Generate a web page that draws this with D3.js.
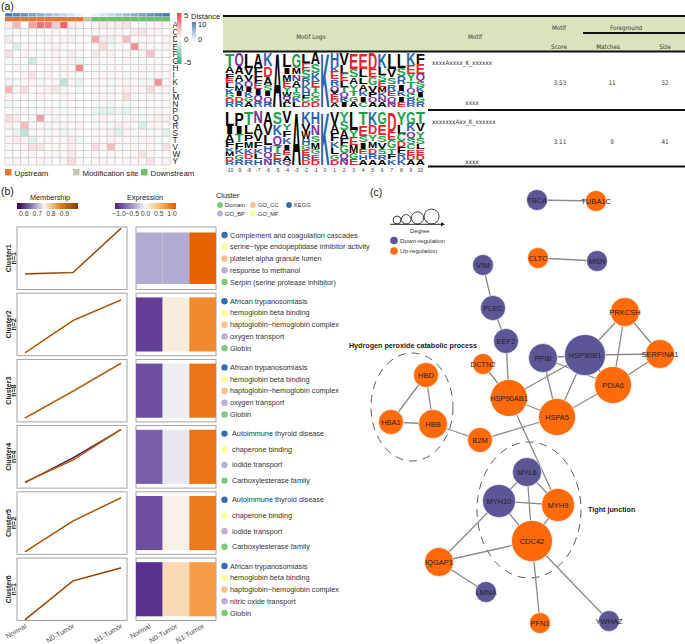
<!DOCTYPE html>
<html><head><meta charset="utf-8">
<script src="https://cdn.jsdelivr.net/npm/d3@7"></script>
<style>
body{margin:0;background:#fff}
svg{display:block}
text{font-family:"Liberation Sans",Arial,Helvetica,sans-serif}
.nar{font-family:"Liberation Sans Narrow","DejaVu Sans Condensed","Liberation Sans",sans-serif}
</style></head><body>
<script>
// ---------------- DATA ----------------
const positions = [-10,-9,-8,-7,-6,-5,-4,-3,-2,-1,0,1,2,3,4,5,6,7,8,9,10];
const aaLetters = ["A","C","D","E","F","G","H","I","K","L","M","N","P","Q","R","S","T","V","W","Y"];
const heatValues = [
 [0.5,2,0,2.5,3.8,3.5,1.5,4.2,0.6,0.4,0,0.3,0.6,0.4,0.6,0.8,0,-0.4,0.3,0.3,0.2],
 [-0.3,0.2,-0.2,0,-0.2,0,0.3,0,0.2,-0.3,0,0.3,0.2,0.3,0.3,-0.2,0.6,0.8,0.2,0.3,0],
 [0.6,0,0,-0.2,0.2,0.3,0,0.3,0.4,-0.2,0,2.4,0.6,-0.6,0.3,1.8,0.2,0.2,0.3,0,0.3],
 [0,-0.9,0.2,0.3,-0.2,0.2,0.4,0.2,0,0.2,0,0.2,1.0,-0.3,0.2,0,3.0,0.4,-0.2,0.2,0.3],
 [0.8,0,0.3,0.2,-0.3,0.2,0.3,-0.2,0.5,-0.3,0,0.7,0.3,0.4,0.2,0.3,0,0.3,1.6,0.2,-0.2],
 [-0.3,0.2,0,-1.3,0.2,-0.2,0.3,0.2,0.3,-0.5,0,0.3,0.2,0.2,-0.2,0.3,-0.2,-0.3,0,0.2,0],
 [0,0.3,-0.2,0.2,0,0.3,0.2,0.4,0.3,3.2,0,0.3,-0.2,0.2,0.3,0,0.2,0.3,0.2,0.3,0.2],
 [-0.2,0,0.3,0.8,-0.2,0.3,0,0.3,0.2,-0.3,0,-0.2,0.3,0.3,0.2,-0.3,0.2,0.3,-0.2,0.3,0.2],
 [-0.5,-0.3,0.2,0.3,-0.3,0.2,-0.3,-1.6,0.3,-0.6,0,0.3,0.2,-0.3,0.2,0.3,0.2,-0.4,0.3,3.0,0.2],
 [2.0,0.3,1.0,0.2,0.3,0.4,0.6,0.3,0.2,-0.4,0,0.3,0.2,0.3,0.2,0.5,0.2,0.3,1.0,-0.3,0.3],
 [0.3,0,0.2,-0.2,0.3,0.2,0,0.3,0.2,0,0,0.2,0.3,0.3,0.2,1.0,0.2,-0.2,0.3,0.2,0.2],
 [-0.4,-0.3,0.2,-0.3,-0.2,0.2,-0.2,-0.3,0.2,-0.2,0,-0.3,0.2,-0.4,0.2,-0.3,0.2,0.3,-0.2,0.2,0.2],
 [0,-0.3,0.3,0.2,-0.2,0.3,0.2,-0.3,0.2,0,0,-0.6,-0.8,-0.8,-0.5,-0.7,0.2,-0.3,0.2,0.3,0.2],
 [1.0,0.5,0,0.3,2.6,0,0.3,0.2,0.3,0.2,0,0.2,0.3,0.2,0,0.2,0.3,-0.5,0.3,0.5,0.4],
 [0.4,0.2,1.8,0.3,0.2,0.3,0.2,0.3,0.2,0.3,0,-0.3,0.2,-0.3,0.5,0.3,0.2,-1.0,0.2,0.3,0.2],
 [0.2,-0.6,-1.6,0.3,0.2,-0.3,0.2,-0.4,0.3,0.2,0,0.3,0.2,0.4,-0.8,0.3,0.2,0.3,-0.3,0.2,-0.8],
 [0.3,0.6,0.3,-0.8,0.2,0.3,0.2,0.3,0.6,-0.4,0,0.3,0.2,0.4,0.3,0.2,-0.3,0.4,0.3,-0.3,0.2],
 [-0.3,0.2,0.3,0.8,0.8,0.2,0.3,0.2,0.5,-0.2,0,1.0,0.3,1.8,0.3,0.2,0.3,0.2,0.3,-0.3,0.9],
 [0.2,0,0.2,0.3,0,0.2,0.3,0.2,0.6,0.2,0,0.2,0,0.3,0.2,0,0.2,0.8,0.2,0,0.2],
 [0.2,0.3,0.2,0,0.3,0.2,0,0.3,1.0,0.2,0,0.2,0.3,0.2,0,0.3,0.2,0.3,0.8,0,0.3]
];
const groupNames = ["Upstream","Modification site","Downstream"];

const logo1 = [
 "T12 A6 F5 E4 L4 K5 G4 D4 R4","Q10 A6 A5 K4 M4 I4 D4 R4","L12 V6 V5 Q5 I4 K4 G4 A4","A10 F6 F5 E4 I4 Q4 R4","K10 D8 A6 S5 I4 O4 R4",
 "A60","L12 I6 M6 E6 Y4 W4 Q3 A3 L3","G12 M5 N5 A5 T4 S4 K4 L4","L8 E7 S6 R5 K5 H4 F3 G3 D4","A9 S7 K6 E5 T4 C4 G4 D4",
 "K60","H10 K5 E6 R5 Q4 V3 E4 D3 A3","V10 L7 E6 L5 T4 Q4 K4 I4","E12 S6 A5 Y5 T4 G4 A4","E12 L6 L5 A5 K4 I4 C4","D13 E6 G6 V5 P4 Q4 A4",
 "K12 L6 S5 E5 M4 K4 N4 A4","L12 V6 S5 R5 E4 Q4 N4","L11 S6 R6 I5 K4 I4 E4","K9 E7 Y6 T5 Q4 C4 R4 R3","F9 E8 Q6 S5 K4 I4 G4 R4"
];
const logo2 = [
 "L13 I7 A7 F5 K4 M4 D4 R4","P10 I6 T6 F5 K4 G4 R4","T9 L7 P5 M5 K4 D4 R4","N8 A7 V6 F5 K4 L4 H4","A8 V6 L6 H4 Q4 N4",
 "S8 K7 Q6 T5 E4 R4","V8 Y5 F5 K5 I4 E4 A4 Q3","A60","K10 V6 W6 H5 G4 E4 R4 D4","H9 N8 S5 M5 G4 E4 D4",
 "K60","V9 A7 F6 K5 L5 G4 D4","Y6 S6 A6 F5 G5 Q4 N4","L12 Y5 E5 M5 G4 E4","T10 E8 S5 I5 E4 H4 A4","K9 D7 Y5 M5 D4 R4 A4",
 "G9 E8 S5 V5 S4 R4 A4","D14 E6 G6 T4 F4 K4","Y9 L6 C5 D4 F4 R4 K4","G9 K6 Q5 S5 C4 E4 D4 A4","T9 V6 Y5 S5 L4 E4 D4 A4"
];
const motifStrings = ["xxxxAxxxx_K_xxxxxx","xxxxxxxAxx_K_xxxxxx"];
const motifScores = ["3.53","3.11"];
const motifMatches = ["11","9"];
const motifSizes = ["52","41"];

const conditions = ["Normal","N0-Tumor","N1-Tumor"];
const clusterNames = ["Cluster1","Cluster2","Cluster3","Cluster4","Cluster5","Cluster6"];
const clusterSizes = [1,2,8,4,2,1];
const clusterProfiles = [[-0.6,-0.55,1.15],[-1.09,0.15,0.94],[-1.05,-0.02,1.05],[-0.97,-0.12,1.05],[-1.1,0.08,0.97],[-1.17,0.32,0.82]];
const clusterMembership = [1.0,0.97,0.96,0.95,0.97,1.0];
const extraProfiles = [{cluster:3, values:[-0.99,-0.04,1.05], membership:0.56}];
const clusterExpression = [[-0.4,-0.4,1.1],[-0.97,0.1,0.84],[-0.89,-0.05,0.98],[-0.8,-0.09,0.98],[-0.89,0.05,0.95],[-1.05,0.25,0.72]];
const clusterTerms = [
 ["Complement and coagulation cascades","serine\u2212type endopeptidase inhibitor activity","platelet alpha granule lumen","response to methanol","Serpin (serine protease inhibitor)"],
 ["African trypanosomiasis","hemoglobin beta binding","haptoglobin\u2212hemoglobin complex","oxygen transport","Globin"],
 ["African trypanosomiasis","hemoglobin beta binding","haptoglobin\u2212hemoglobin complex","oxygen transport","Globin"],
 ["Autoimmune thyroid disease","chaperone binding","iodide transport","Carboxylesterase family"],
 ["Autoimmune thyroid disease","chaperone binding","iodide transport","Carboxylesterase family"],
 ["African trypanosomiasis","hemoglobin beta binding","haptoglobin\u2212hemoglobin complex","nitric oxide transport","Globin"]
];
const clusterTermTypes = [
 ["KEGG","GO_MF","GO_CC","GO_BP","Domain"],["KEGG","GO_MF","GO_CC","GO_BP","Domain"],["KEGG","GO_MF","GO_CC","GO_BP","Domain"],
 ["KEGG","GO_MF","GO_BP","Domain"],["KEGG","GO_MF","GO_BP","Domain"],["KEGG","GO_MF","GO_CC","GO_BP","Domain"]
];
const termTypeOrder = ["Domain","GO_CC","KEGG","GO_BP","GO_MF"];
const membershipTicks = [0.6,0.7,0.8,0.9];
const expressionTicks = [-1.0,-0.5,0.0,0.5,1.0];

const netNodes = [
 ["TBCA","down",197,35],["TUBA1C","up",256,36],["CLTC","up",198,93],["MSN","down",257,96],
 ["VIM","down",143,100],["PLEC","down",153,143],["EEF2","down",166,176],["PRKCSH","up",285,147],
 ["SERPINA1","up",320,189],["HSP90B1","down",245,190],["PPIB","down",203,193],["DCTN2","up",143,199],
 ["PDIA6","up",273,220],["HSP90AB1","up",169,233],["HSPA5","up",217,252],["HBD","up",86,210],
 ["HBA1","up",51,257],["HBB","up",93,259],["B2M","up",140,275],["MYL6","down",187,307],
 ["MYH10","down",159,336],["MYH9","up",218,340],["CDC42","up",192,376],["IQGAP1","up",99,397],
 ["LMNA","down",146,427],["PFN1","up",200,458],["YWHAZ","down",269,456]
];
const netEdges = [
 ["TBCA","TUBA1C"],["CLTC","MSN"],["VIM","PLEC"],["PLEC","EEF2"],["EEF2","HSP90AB1"],["DCTN2","HSP90AB1"],
 ["PRKCSH","HSP90B1"],["PRKCSH","SERPINA1"],["PRKCSH","PDIA6"],["HSP90B1","SERPINA1"],["SERPINA1","PDIA6"],
 ["HSP90B1","PDIA6"],["HSP90B1","HSP90AB1"],["HSP90B1","HSPA5"],["PPIB","HSP90B1"],["PPIB","PDIA6"],["PPIB","HSPA5"],
 ["HSP90AB1","HSPA5"],["PDIA6","HSPA5"],["HSPA5","B2M"],["HBB","B2M"],["HBD","HBB"],["HBD","HBA1"],["HBA1","HBB"],
 ["HSP90AB1","MYH9"],["MYL6","MYH10"],["MYL6","MYH9"],["MYL6","CDC42"],["MYH10","MYH9"],["MYH10","CDC42"],
 ["MYH9","CDC42"],["MYH10","IQGAP1"],["IQGAP1","CDC42"],["IQGAP1","LMNA"],["CDC42","PFN1"],["CDC42","YWHAZ"]
];
const netModules = [
 {label:"Hydrogen peroxide catabolic process", cx:72, cy:242, rx:41, ry:54},
 {label:"Tight junction", cx:189, cy:345, rx:52, ry:68}
];

// ---------------- DRAW ----------------
const svg = d3.select("body").append("svg").attr("width",685).attr("height",644);
const txt = (x,y,s,o={})=>{const t=svg.append("text").attr("x",x).attr("y",y).text(s);
  for(const k in o) t.attr(k,o[k]); return t;};

// ===== (a) heatmap =====
txt(1,10,"(a)",{"font-size":10.5,fill:"#222"});
const hx = d3.scaleBand().domain(positions).range([5,170]);
const hy = d3.scaleBand().domain(aaLetters).range([21.5,165]);
const heatColor = d3.scaleLinear().domain([-5,0,5]).range(["#2FAF86","#ffffff","#E8454D"]);
const distColor = d3.scaleLinear().domain([0,10]).range(["#ffffff","#4479B3"]);
const groupColor = d3.scaleOrdinal().domain(groupNames).range(["#E3772A","#C6C8AF","#6FBF6C"]);
const groupOf = p => p<0?groupNames[0]:(p===0?groupNames[1]:groupNames[2]);

svg.append("g").selectAll("rect").data(positions).join("rect")
 .attr("x",d=>hx(d)).attr("y",13).attr("width",hx.bandwidth()).attr("height",3.8)
 .attr("fill",d=>distColor(Math.abs(d))).attr("stroke","#fff").attr("stroke-width",0.3);
svg.append("g").selectAll("rect").data(positions).join("rect")
 .attr("x",d=>hx(d)).attr("y",17).attr("width",hx.bandwidth()).attr("height",4.2)
 .attr("fill",d=>groupColor(groupOf(d)));
const cells=[];
aaLetters.forEach((a,i)=>positions.forEach((p,j)=>cells.push({a,p,v:heatValues[i][j]})));
svg.append("g").selectAll("rect").data(cells).join("rect")
 .attr("x",d=>hx(d.p)).attr("y",d=>hy(d.a)).attr("width",hx.bandwidth()).attr("height",hy.bandwidth())
 .attr("fill",d=>heatColor(d.v)).attr("stroke","#cfcfcf").attr("stroke-width",0.8);
svg.append("g").selectAll("text").data(aaLetters).join("text")
 .attr("x",172.5).attr("y",d=>hy(d)+hy.bandwidth()/2+3).attr("font-size",8.2).attr("fill","#222").text(d=>d);

// heat legend
const defs = svg.append("defs");
const g1 = defs.append("linearGradient").attr("id","hg").attr("x1",0).attr("x2",0).attr("y1",0).attr("y2",1);
[5,2.5,0,-2.5,-5].forEach((v,i)=>g1.append("stop").attr("offset",i/4).attr("stop-color",heatColor(v)));
const hl = d3.scaleLinear().domain([5,-5]).range([15,62]);
svg.append("rect").attr("x",177).attr("y",13).attr("width",4.5).attr("height",51).attr("fill","url(#hg)");
[5,0,-5].forEach(v=>{
  svg.append("line").attr("x1",181.5).attr("x2",183).attr("y1",hl(v)).attr("y2",hl(v)).attr("stroke","#fff").attr("stroke-width",0.6);
  txt(184,hl(v)+3,v===-5?"-5":String(v),{"font-size":8,fill:"#222"});
});
txt(191,19,"Distance",{"font-size":7.5,fill:"#222"});
const g2 = defs.append("linearGradient").attr("id","dg").attr("x1",0).attr("x2",0).attr("y1",0).attr("y2",1);
[10,5,0].forEach((v,i)=>g2.append("stop").attr("offset",i/2).attr("stop-color",distColor(v)));
svg.append("rect").attr("x",192).attr("y",22).attr("width",4).attr("height",18.5).attr("fill","url(#dg)").attr("stroke","#ccc").attr("stroke-width",0.3);
txt(198,27,"10",{"font-size":7.5,fill:"#222"});
txt(198,41.5,"0",{"font-size":7.5,fill:"#222"});

// group legend
const gLegX=[5,73,141];
groupNames.forEach((g,i)=>{
  svg.append("rect").attr("x",gLegX[i]).attr("y",169).attr("width",6.5).attr("height",6.5).attr("fill",groupColor(g));
  txt(gLegX[i]+9.5,175.5,g,{"font-size":7.8,fill:"#222"});
});

// ===== (a) table =====
svg.append("rect").attr("x",223).attr("y",17).attr("width",462).attr("height",34).attr("fill","#D9E4BE");
const hline=(x1,x2,y,w)=>svg.append("line").attr("x1",x1).attr("x2",x2).attr("y1",y).attr("y2",y).attr("stroke","#111").attr("stroke-width",w);
hline(223,685,16,2); hline(223,685,51.5,1.8); hline(583,685,33,1.8);
hline(428,685,110,2); hline(428,685,166.5,2);
const tf = {"font-size":6.3,fill:"#333","text-anchor":"middle",class:"nar"};
txt(311,39,"Motif Logo",tf); txt(475,39,"Motif",tf); txt(559,30,"Motif",tf); txt(559,49,"Score",tf);
txt(626,29.5,"Foreground",tf); txt(608,49,"Matches",tf); txt(665,49,"Size",tf);
const rowTops=[53,112];
motifStrings.forEach((m,i)=>{
  const t0=rowTops[i];
  txt(432,t0+11.5,m,{"font-size":6.3,fill:"#333",class:"nar"});
  txt(560,t0+31.5,motifScores[i],tf); txt(612,t0+31.5,motifMatches[i],tf); txt(665,t0+31.5,motifSizes[i],tf);
  txt(472,t0+51.5,"xxxx",tf);
});

const aaColor = a => "GSTYC".includes(a)?"#1EA04A":("NQ".includes(a)?"#7C2E9E":("KRH".includes(a)?"#2C61AD":("DE".includes(a)?"#E3262D":"#000")));
const lx = d3.scaleBand().domain(positions).range([225,425]).paddingInner(0.03);
function drawLogo(cols, top, bottom){
  const ly = d3.scaleLinear().domain([0,1]).range([top,bottom]);
  cols.forEach((s,i)=>{
    const items = s.split(" ").map(t=>({aa:t[0]==="O"?"Q":t[0],w:+t.slice(1)}));
    const tot = d3.sum(items,d=>d.w);
    let c=0;
    items.forEach(d=>{
      const y0=ly(c/tot); c+=d.w; const y1=ly(c/tot); const h=y1-y0;
      svg.append("text").attr("x",lx(positions[i])).attr("y",y1)
        .attr("font-size",h/0.716).attr("font-weight","bold")
        .attr("textLength",lx.bandwidth()).attr("lengthAdjust","spacingAndGlyphs")
        .attr("fill",aaColor(d.aa)).text(d.aa);
    });
  });
}
drawLogo(logo1,53,107);
drawLogo(logo2,112,165);
svg.append("g").selectAll("text").data(positions).join("text")
 .attr("x",d=>lx(d)+lx.bandwidth()/2).attr("y",172).attr("text-anchor","middle")
 .attr("font-size",5).attr("fill","#333").text(d=>d);

// ===== (b) =====
txt(1,195,"(b)",{"font-size":10.5,fill:"#222"});
const memStops=[0.55,0.65,0.75,0.87,1.0];
const memColor = d3.scaleLinear().domain(memStops).range(["#2D004B","#8073AC","#F7F7F7","#E08214","#7F3B08"]);
const expColor = d3.scaleLinear().domain([-1.1,-0.55,0,0.55,1.1]).range(["#542788","#998EC3","#F7F7F7","#FDB863","#E66101"]);
// membership legend
const mlx = d3.scaleLinear().domain([0.55,1.0]).range([17,78]);
const gm = defs.append("linearGradient").attr("id","mg");
memStops.forEach(v=>gm.append("stop").attr("offset",(v-0.55)/0.45).attr("stop-color",memColor(v)));
svg.append("rect").attr("x",17).attr("y",203).attr("width",61).attr("height",6).attr("fill","url(#mg)");
txt(50,200,"Membership",{"font-size":7.3,fill:"#222","text-anchor":"middle"});
membershipTicks.forEach(v=>txt(mlx(v),216,v.toFixed(1),{"font-size":6.8,fill:"#444","text-anchor":"middle"}));
// expression legend
const elx = d3.scaleLinear().domain([-1.15,1.15]).range([115,176]);
const ge = defs.append("linearGradient").attr("id","eg");
[-1.1,-0.55,0,0.55,1.1].forEach(v=>ge.append("stop").attr("offset",(v+1.15)/2.3).attr("stop-color",expColor(v)));
svg.append("rect").attr("x",115).attr("y",203).attr("width",61).attr("height",6).attr("fill","url(#eg)");
txt(145,200,"Expression",{"font-size":7.3,fill:"#222","text-anchor":"middle"});
expressionTicks.forEach(v=>txt(elx(v),216,(v<0?"\u2212":"")+Math.abs(v).toFixed(1),{"font-size":6.8,fill:"#444","text-anchor":"middle"}));
// cluster legend
const termColor = d3.scaleOrdinal().domain(["Domain","GO_BP","GO_CC","GO_MF","KEGG"]).range(["#7FC97F","#BEAED4","#FDC086","#FFFF99","#386CB0"]);
txt(216,198,"Cluster",{"font-size":7.3,fill:"#222"});
const legPos={Domain:[220,205],GO_CC:[253,205],KEGG:[289,205],GO_BP:[220,213.5],GO_MF:[253,213.5]};
termTypeOrder.forEach(t=>{
  const [x,y]=legPos[t];
  svg.append("circle").attr("cx",x).attr("cy",y).attr("r",2.9).attr("fill",termColor(t));
  txt(x+5,y+2.2,t,{"font-size":5.8,fill:"#333"});
});

const rowH=62.5, rowStep=66.2, rowTop0=227;
const lineX = d3.scalePoint().domain(conditions).range([25,121]);
const heatX = d3.scaleBand().domain(conditions).range([136,216]);
clusterNames.forEach((cn,i)=>{
  const top=rowTop0+i*rowStep, bot=top+rowH;
  const ly = d3.scaleLinear().domain([-1.2,1.2]).range([bot,top]);
  svg.append("rect").attr("x",17).attr("y",top).attr("width",110).attr("height",rowH).attr("fill","#fff").attr("stroke","#9a9a9a").attr("stroke-width",0.9);
  const line = d3.line().x((d,k)=>lineX(conditions[k])).y(d=>ly(d));
  extraProfiles.filter(e=>e.cluster===i).forEach(e=>{
    svg.append("path").attr("d",line(e.values)).attr("fill","none").attr("stroke",memColor(e.membership)).attr("stroke-width",1.3);
  });
  svg.append("path").attr("d",line(clusterProfiles[i])).attr("fill","none").attr("stroke","#E08A3A").attr("stroke-width",1.9).attr("opacity",0.6);
  svg.append("path").attr("d",line(clusterProfiles[i])).attr("fill","none").attr("stroke",memColor(clusterMembership[i])).attr("stroke-width",1.1);
  // heat
  svg.append("rect").attr("x",136).attr("y",top).attr("width",80).attr("height",rowH).attr("fill","#fff").attr("stroke","#9a9a9a").attr("stroke-width",0.9);
  const m = i===0?5.5:4.2;
  svg.append("g").selectAll("rect").data(clusterExpression[i]).join("rect")
    .attr("x",(d,k)=>heatX(conditions[k])).attr("y",top+m).attr("width",heatX.bandwidth()).attr("height",rowH-2*m)
    .attr("fill",d=>expColor(d));
  // labels
  const cy=top+rowH/2;
  txt(0,0,cn,{"font-size":7,"font-weight":"bold",fill:"#222","text-anchor":"middle",transform:`translate(10.5,${cy}) rotate(-90)`});
  txt(0,0,"n="+clusterSizes[i],{"font-size":7,"font-weight":"bold",fill:"#222","text-anchor":"middle",transform:`translate(16.2,${cy}) rotate(-90)`});
  // terms
  const terms=clusterTerms[i], n=terms.length;
  const ty = d3.scalePoint().domain(d3.range(n)).range([top+8,top+55]);
  terms.forEach((t,k)=>{
    svg.append("circle").attr("cx",224.5).attr("cy",ty(k)).attr("r",3.2).attr("fill",termColor(clusterTermTypes[i][k]));
    txt(n===4?232:230,ty(k)+2.5,t,{"font-size":7.3,fill:"#333"});
  });
});
const axY = rowTop0+5*rowStep+rowH+4;
conditions.forEach(c=>{
  txt(0,0,c,{"font-size":7,fill:"#4d4d4d","text-anchor":"end",transform:`translate(${lineX(c)+2},${axY+3}) rotate(-30)`});
  txt(0,0,c,{"font-size":7,fill:"#4d4d4d","text-anchor":"end",transform:`translate(${heatX(c)+heatX.bandwidth()/2+2},${axY+3}) rotate(-30)`});
});

// ===== (c) network =====
txt(370,196,"(c)",{"font-size":10.5,fill:"#222"});
const nx = d3.scaleLinear().domain([0,345]).range([340,685]);
const ny = d3.scaleLinear().domain([0,479]).range([165,644]);
const nodes = netNodes.map(d=>({id:d[0],reg:d[1],x:nx(d[2]),y:ny(d[3])}));
const byId = new Map(nodes.map(d=>[d.id,d]));
nodes.forEach(d=>d.deg=netEdges.filter(e=>e[0]===d.id||e[1]===d.id).length);
const rScale = d3.scaleLinear().domain([1,6]).range([10.5,20.5]);
const regColor = d3.scaleOrdinal().domain(["down","up"]).range(["#5B5696","#FF6A0A"]);
// modules
netModules.forEach(m=>{
  svg.append("ellipse").attr("cx",nx(m.cx)).attr("cy",ny(m.cy)).attr("rx",m.rx).attr("ry",m.ry)
   .attr("fill","none").attr("stroke","#333").attr("stroke-width",0.8).attr("stroke-dasharray","8,6");
});
txt(413,348,netModules[0].label,{"font-size":7.2,"font-weight":"bold",fill:"#222","text-anchor":"middle"});
txt(588,512,netModules[1].label,{"font-size":7.2,"font-weight":"bold",fill:"#222"});
svg.append("g").selectAll("line").data(netEdges).join("line")
 .attr("x1",d=>byId.get(d[0]).x).attr("y1",d=>byId.get(d[0]).y)
 .attr("x2",d=>byId.get(d[1]).x).attr("y2",d=>byId.get(d[1]).y)
 .attr("stroke","#8a8a8a").attr("stroke-width",1.3);
const ng = svg.append("g").selectAll("g").data(nodes).join("g");
ng.append("circle").attr("cx",d=>d.x).attr("cy",d=>d.y).attr("r",d=>rScale(d.deg))
 .attr("fill",d=>regColor(d.reg)).attr("stroke","#fff").attr("stroke-width",0.6);
ng.append("text").attr("x",d=>d.x).attr("y",d=>d.y+2.6).attr("text-anchor","middle")
 .attr("font-size",7.5).attr("fill","#222").text(d=>d.id);
// degree legend
const degLeg=[1,2,4,6];
const dls = d3.scaleLinear().domain([1,6]).range([4,7.5]);
let cxp=393;
degLeg.forEach(v=>{const r=dls(v); cxp+=r; svg.append("circle").attr("cx",cxp).attr("cy",224-r).attr("r",r).attr("fill","#fff").attr("stroke","#111").attr("stroke-width",0.8); cxp+=r+0.5;});
svg.append("line").attr("x1",390).attr("x2",441).attr("y1",224.3).attr("y2",224.3).attr("stroke","#111").attr("stroke-width",0.9);
svg.append("path").attr("d","M441,222.3 L445,224.3 L441,226.3 Z").attr("fill","#111");
txt(410,232.5,"Degree",{"font-size":6,fill:"#333"});
svg.append("circle").attr("cx",394).attr("cy",240.5).attr("r",3.8).attr("fill",regColor("down"));
txt(400,242.8,"Down-regulation",{"font-size":6.2,fill:"#333"});
svg.append("circle").attr("cx",394).attr("cy",251).attr("r",3.8).attr("fill",regColor("up"));
txt(400,253.3,"Up-regulation",{"font-size":6.2,fill:"#333"});
</script>
</body></html>
